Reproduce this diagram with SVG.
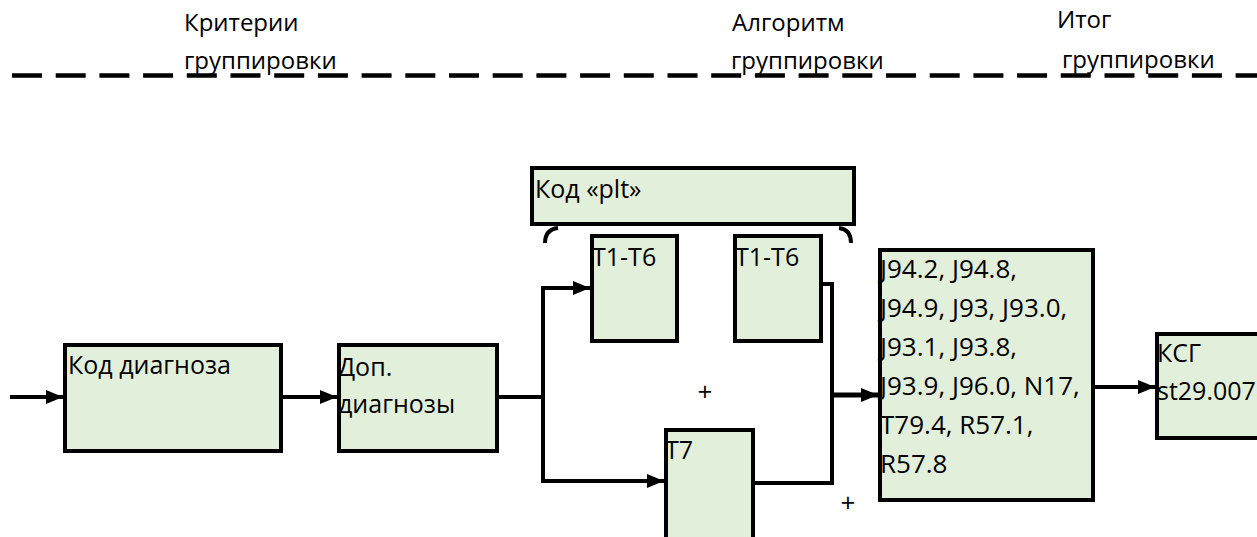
<svg xmlns="http://www.w3.org/2000/svg" width="1257" height="537" viewBox="0 0 1257 537">
<style>
.box{fill:#e2efda;stroke:#000;stroke-width:4}
.t{font-family:"Open Sans","Noto Sans",sans-serif;font-size:25px;fill:#000}
.j{font-size:26px}
.h{font-family:"Open Sans","Noto Sans",sans-serif;font-size:24px;fill:#000}
.p{font-family:"Open Sans","Noto Sans",sans-serif;font-size:26px;fill:#000;text-anchor:middle}
.c{fill:none;stroke:#000;stroke-width:4}
</style>
<defs>
<marker id="ah" markerWidth="17" markerHeight="14" refX="17" refY="7" orient="auto" markerUnits="userSpaceOnUse">
<path d="M0,0 L17,7 L0,14 Z" fill="#000"/>
</marker>
</defs>
<rect width="1257" height="537" fill="#fff"/>
<g id="headers">
<text class="h" x="184" y="31">Критерии</text>
<text class="h" x="184" y="69">группировки</text>
<text class="h" x="732" y="31">Алгоритм</text>
<text class="h" x="731" y="69">группировки</text>
<text class="h" x="1057" y="28">Итог</text>
<text class="h" x="1062" y="68">группировки</text>
<line x1="12" y1="75.5" x2="1257" y2="75.5" stroke="#000" stroke-width="4.5" stroke-dasharray="30 13.7"/>
</g>
<g id="connectors">
<line class="c" x1="10" y1="397" x2="63" y2="397" marker-end="url(#ah)"/>
<line class="c" x1="283" y1="397" x2="337" y2="397" marker-end="url(#ah)"/>
<polyline class="c" points="499,397 543,397"/>
<polyline class="c" points="543,481 543,288 590,288" marker-end="url(#ah)"/>
<polyline class="c" points="543,395 543,481 664,481" marker-end="url(#ah)"/>
<polyline class="c" points="823,284 832,284 832,483 755,483"/>
<line x1="832" y1="395" x2="878" y2="395" stroke="#000" stroke-width="5" marker-end="url(#ah)"/>
<line class="c" x1="1095" y1="387" x2="1155" y2="387" marker-end="url(#ah)"/>
<path class="c" stroke-width="3" d="M545,243 C545,234 549,229 558,228"/>
<path class="c" stroke-width="3" d="M839,228 C847,229 851,234 851,243"/>
<text class="p" x="705" y="401">+</text>
<text class="p" x="848" y="512">+</text>
</g>
<g id="plt">
<rect class="box" x="532" y="168" width="322" height="56"/>
<text class="t" x="535" y="198">Код «plt»</text>
</g>
<g id="kod">
<rect class="box" x="65" y="345" width="216" height="106"/>
<text class="t" x="68" y="374">Код диагноза</text>
</g>
<g id="dop">
<rect class="box" x="339" y="345" width="158" height="106"/>
<text class="t" x="338" y="376">Доп.</text>
<text class="t" x="338" y="413">диагнозы</text>
</g>
<g id="t16a">
<rect class="box" x="592" y="236" width="85" height="105"/>
<text class="t" x="592" y="266">T1-T6</text>
</g>
<g id="t16b">
<rect class="box" x="735" y="236" width="86" height="105"/>
<text class="t" x="735" y="266">T1-T6</text>
</g>
<g id="t7">
<rect class="box" x="666" y="430" width="87" height="115"/>
<text class="t" x="665" y="459">T7</text>
</g>
<g id="codes">
<rect class="box" x="880" y="250" width="213" height="250"/>
<text class="t j" x="880" y="278">J94.2, J94.8,</text>
<text class="t j" x="880" y="317">J94.9, J93, J93.0,</text>
<text class="t j" x="880" y="356">J93.1, J93.8,</text>
<text class="t j" x="880" y="395">J93.9, J96.0, N17,</text>
<text class="t j" x="880" y="434">T79.4, R57.1,</text>
<text class="t j" x="880" y="473">R57.8</text>
</g>
<g id="ksg">
<rect class="box" x="1157" y="334" width="120" height="104"/>
<text class="t" x="1157" y="362">КСГ</text>
<text class="t" x="1157" y="400">st29.007</text>
</g>
</svg>
